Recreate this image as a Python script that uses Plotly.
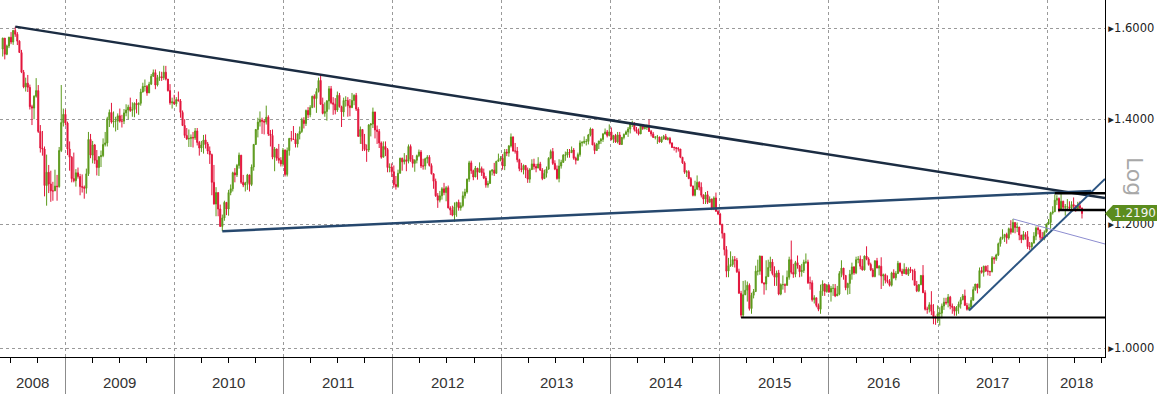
import math
import pandas as pd
import plotly.graph_objects as go

# ---------------- Weekly EUR/USD candles (week ending Friday) ----------------
first_open = 1.5520

close_2008 = [1.5770,1.5400,1.5590,1.5790,1.5680,1.5950,1.5860,1.5700,1.5440,1.5000,
              1.4680,1.4760,1.4670,1.4260,1.4230,1.4480,1.4600,1.3750,1.3420,1.3400,
              1.2700,1.2950,1.2730,1.2600,1.2600,1.2690,1.2680,1.3370,1.3930,1.4100,1.3920]
high_2008 = [1.5780,1.5770,1.5620,1.5800,1.5910,1.5960,1.6038,1.5910,1.5720,1.5500,
             1.5050,1.4880,1.4940,1.4730,1.4300,1.4500,1.4870,1.4720,1.3880,1.3760,
             1.3450,1.3290,1.3090,1.2980,1.2770,1.3000,1.2900,1.3440,1.4720,1.4220,1.4200]
low_2008 = [1.5350,1.5285,1.5380,1.5540,1.5630,1.5615,1.5800,1.5610,1.5440,1.4980,
            1.4650,1.4580,1.4570,1.4200,1.3880,1.4000,1.4450,1.3720,1.3330,1.3270,
            1.2500,1.2330,1.2560,1.2400,1.2420,1.2600,1.2420,1.2660,1.3340,1.3850,1.3870]

close_2009 = [1.3400,1.3240,1.2830,1.2790,1.2940,1.2870,1.2680,1.2670,1.2650,1.2920,
              1.3590,1.3280,1.3480,1.3180,1.3040,1.3250,1.3270,1.3490,1.3520,1.4010,
              1.4140,1.3940,1.3960,1.3960,1.4070,1.3960,1.3960,1.4130,1.4190,1.4250,
              1.4180,1.4200,1.4330,1.4300,1.4330,1.4570,1.4690,1.4690,1.4550,1.4740,
              1.4910,1.4990,1.4720,1.4880,1.4900,1.4880,1.5000,1.4850,1.4600,1.4340,
              1.4360,1.4320]
high_2009 = [1.3950,1.3550,1.3260,1.3330,1.3010,1.3040,1.2920,1.2910,1.2700,1.3020,
             1.3740,1.3700,1.3560,1.3500,1.3380,1.3260,1.3370,1.3610,1.3740,1.4050,
             1.4200,1.4340,1.4160,1.4050,1.4120,1.4220,1.4090,1.4210,1.4310,1.4300,
             1.4450,1.4350,1.4350,1.4420,1.4350,1.4640,1.4770,1.4840,1.4720,1.4790,
             1.4960,1.5060,1.5060,1.4940,1.5020,1.5010,1.5144,1.5140,1.4850,1.4740,
             1.4450,1.4510]
low_2009 = [1.3280,1.2980,1.2760,1.2760,1.2680,1.2830,1.2520,1.2570,1.2457,1.2550,
            1.2880,1.3220,1.3120,1.3110,1.2890,1.2880,1.3050,1.3240,1.3450,1.3450,
            1.3840,1.3910,1.3830,1.3750,1.3780,1.3930,1.3830,1.3900,1.4060,1.4000,
            1.4150,1.4050,1.4040,1.4120,1.4090,1.4280,1.4560,1.4580,1.4490,1.4580,
            1.4720,1.4900,1.4630,1.4690,1.4810,1.4810,1.4830,1.4820,1.4580,1.4300,
            1.4220,1.4300]

close_2010 = [1.4410,1.4380,1.4140,1.3870,1.3670,1.3600,1.3610,1.3630,1.3620,1.3760,
              1.3530,1.3420,1.3480,1.3580,1.3500,1.3360,1.3290,1.2760,1.2360,1.2570,
              1.2270,1.1960,1.2110,1.2390,1.2270,1.2570,1.2640,1.2940,1.2900,1.3080,
              1.3280,1.2760,1.2710,1.2750,1.2900,1.2720,1.3050,1.3490,1.3790,1.3940,
              1.3980,1.3960,1.3940,1.4040,1.3700,1.3670,1.3240,1.3400,1.3220,1.3180,
              1.3110,1.3380]
high_2010 = [1.4460,1.4580,1.4420,1.4180,1.4000,1.3820,1.3790,1.3690,1.3740,1.3820,
             1.3820,1.3560,1.3560,1.3680,1.3690,1.3540,1.3450,1.3310,1.3090,1.2670,
             1.2550,1.2350,1.2170,1.2420,1.2390,1.2620,1.2720,1.2960,1.3030,1.3110,
             1.3330,1.3200,1.2900,1.2770,1.2920,1.2820,1.3100,1.3500,1.3800,1.4030,
             1.4160,1.4030,1.4000,1.4282,1.4080,1.3780,1.3790,1.3440,1.3410,1.3500,
             1.3240,1.3420]
low_2010 = [1.4260,1.4370,1.4030,1.3860,1.3620,1.3580,1.3440,1.3440,1.3430,1.3580,
            1.3470,1.3270,1.3340,1.3310,1.3410,1.3300,1.3110,1.2520,1.2350,1.2140,
            1.2140,1.1950,1.1876,1.2060,1.2160,1.2150,1.2520,1.2590,1.2760,1.2860,
            1.3020,1.2730,1.2670,1.2590,1.2620,1.2590,1.2690,1.2980,1.3480,1.3630,
            1.3850,1.3700,1.3690,1.3890,1.3660,1.3450,1.3200,1.2970,1.3170,1.3120,
            1.3060,1.3060]

close_2011 = [1.2910,1.3370,1.3610,1.3600,1.3590,1.3500,1.3700,1.3750,1.3980,1.3910,
              1.4180,1.4090,1.4240,1.4480,1.4430,1.4580,1.4820,1.4310,1.4120,1.4160,
              1.4380,1.4640,1.4340,1.4310,1.4190,1.4500,1.4260,1.4150,1.4390,1.4390,
              1.4280,1.4240,1.4390,1.4500,1.4210,1.3650,1.3790,1.3500,1.3390,1.3380,
              1.3880,1.3900,1.4150,1.3780,1.3750,1.3520,1.3240,1.3450,1.3390,1.3040,
              1.3050,1.2960]
high_2011 = [1.3390,1.3430,1.3620,1.3760,1.3860,1.3720,1.3710,1.3850,1.4030,1.4040,
             1.4200,1.4250,1.4290,1.4490,1.4520,1.4650,1.4880,1.4940,1.4450,1.4350,
             1.4400,1.4700,1.4700,1.4460,1.4440,1.4580,1.4550,1.4280,1.4450,1.4480,
             1.4460,1.4420,1.4550,1.4520,1.4550,1.4250,1.3850,1.3780,1.3700,1.3490,
             1.3900,1.3920,1.4240,1.4140,1.3870,1.3800,1.3550,1.3550,1.3550,1.3420,
             1.3120,1.3120]
low_2011 = [1.2870,1.2870,1.3270,1.3550,1.3580,1.3430,1.3430,1.3590,1.3720,1.3810,
            1.3860,1.4020,1.4040,1.4230,1.4240,1.4130,1.4560,1.4300,1.4100,1.4050,
            1.3970,1.4200,1.4310,1.4090,1.4100,1.4150,1.4240,1.3840,1.4050,1.4260,
            1.4050,1.4060,1.4230,1.4290,1.4170,1.3650,1.3500,1.3360,1.3360,1.3150,
            1.3340,1.3650,1.3820,1.3610,1.3500,1.3420,1.3210,1.3250,1.3260,1.2950,
            1.2950,1.2860]

close_2012 = [1.2720,1.2680,1.2930,1.3220,1.3150,1.3190,1.3160,1.3450,1.3200,1.3120,
              1.3180,1.3270,1.3340,1.3070,1.3070,1.3210,1.3240,1.3080,1.2920,1.2780,
              1.2510,1.2430,1.2510,1.2640,1.2570,1.2660,1.2290,1.2250,1.2160,1.2310,
              1.2390,1.2290,1.2330,1.2510,1.2580,1.2820,1.3130,1.2980,1.2860,1.3030,
              1.2950,1.3020,1.2940,1.2840,1.2710,1.2740,1.2970,1.2990,1.2930,1.3160,
              1.3190,1.3220,1.3070]
high_2012 = [1.3080,1.2880,1.3000,1.3230,1.3230,1.3320,1.3280,1.3490,1.3490,1.3280,
             1.3200,1.3290,1.3390,1.3380,1.3210,1.3230,1.3280,1.3280,1.3120,1.2930,
             1.2830,1.2560,1.2600,1.2670,1.2750,1.2690,1.2700,1.2320,1.2330,1.2390,
             1.2400,1.2440,1.2390,1.2590,1.2640,1.2830,1.3170,1.3173,1.3000,1.3070,
             1.3010,1.3140,1.3060,1.3020,1.2880,1.2790,1.2990,1.3010,1.3130,1.3170,
             1.3310,1.3260,1.3300]
low_2012 = [1.2660,1.2624,1.2660,1.2930,1.2980,1.3100,1.2970,1.3120,1.3150,1.3040,
            1.2960,1.3120,1.3240,1.3030,1.3000,1.3000,1.3120,1.3060,1.2910,1.2640,
            1.2490,1.2290,1.2390,1.2440,1.2520,1.2410,1.2280,1.2160,1.2140,1.2042,
            1.2130,1.2240,1.2240,1.2300,1.2460,1.2550,1.2770,1.2920,1.2800,1.2860,
            1.2810,1.2950,1.2880,1.2820,1.2660,1.2660,1.2730,1.2890,1.2880,1.2920,
            1.3160,1.3160,1.3000]

close_2013 = [1.3340,1.3320,1.3460,1.3640,1.3360,1.3360,1.3190,1.3020,1.3000,1.3080,
              1.2990,1.2820,1.3000,1.3110,1.3060,1.3030,1.3110,1.2990,1.2830,1.2930,
              1.3010,1.3220,1.3350,1.3120,1.3010,1.2830,1.3070,1.3140,1.3280,1.3280,
              1.3340,1.3330,1.3380,1.3220,1.3180,1.3290,1.3520,1.3530,1.3550,1.3550,
              1.3680,1.3800,1.3480,1.3370,1.3500,1.3560,1.3590,1.3700,1.3740,1.3670,
              1.3740,1.3590]
high_2013 = [1.3400,1.3400,1.3480,1.3710,1.3650,1.3520,1.3440,1.3210,1.3130,1.3100,
             1.3050,1.3040,1.3030,1.3200,1.3210,1.3110,1.3240,1.3150,1.3030,1.3000,
             1.3060,1.3240,1.3390,1.3420,1.3180,1.3080,1.3200,1.3190,1.3300,1.3350,
             1.3400,1.3400,1.3450,1.3420,1.3250,1.3330,1.3570,1.3560,1.3650,1.3600,
             1.3700,1.3830,1.3800,1.3530,1.3520,1.3560,1.3620,1.3720,1.3810,1.3780,
             1.3893,1.3830]
low_2013 = [1.2990,1.3260,1.3250,1.3430,1.3350,1.3310,1.3140,1.2970,1.2950,1.2910,
            1.2840,1.2750,1.2750,1.3000,1.3000,1.2950,1.3080,1.2980,1.2800,1.2840,
            1.2850,1.3000,1.3200,1.3090,1.2990,1.2810,1.2760,1.3020,1.3130,1.3170,
            1.3230,1.3230,1.3320,1.3190,1.3100,1.3240,1.3250,1.3450,1.3500,1.3470,
            1.3490,1.3650,1.3480,1.3300,1.3380,1.3400,1.3500,1.3540,1.3690,1.3630,
            1.3650,1.3570]

close_2014 = [1.3670,1.3540,1.3680,1.3490,1.3630,1.3690,1.3740,1.3800,1.3910,1.3910,
              1.3790,1.3750,1.3700,1.3890,1.3810,1.3830,1.3870,1.3750,1.3700,1.3630,
              1.3640,1.3640,1.3540,1.3600,1.3650,1.3590,1.3610,1.3520,1.3430,1.3430,
              1.3410,1.3400,1.3240,1.3130,1.2950,1.2960,1.2830,1.2690,1.2520,1.2630,
              1.2760,1.2670,1.2520,1.2450,1.2530,1.2390,1.2450,1.2290,1.2470,1.2230,
              1.2180,1.2000]
high_2014 = [1.3680,1.3700,1.3740,1.3740,1.3640,1.3710,1.3770,1.3840,1.3920,1.3967,
             1.3940,1.3840,1.3810,1.3900,1.3880,1.3860,1.3890,1.3993,1.3780,1.3740,
             1.3650,1.3680,1.3640,1.3650,1.3680,1.3700,1.3640,1.3640,1.3530,1.3450,
             1.3430,1.3440,1.3400,1.3230,1.3160,1.2990,1.2990,1.2860,1.2700,1.2790,
             1.2890,1.2780,1.2760,1.2540,1.2580,1.2600,1.2500,1.2460,1.2500,1.2570,
             1.2250,1.2200]
low_2014 = [1.3520,1.3520,1.3510,1.3480,1.3480,1.3590,1.3690,1.3640,1.3710,1.3840,
            1.3750,1.3710,1.3670,1.3700,1.3780,1.3790,1.3780,1.3740,1.3650,1.3620,
            1.3590,1.3500,1.3530,1.3520,1.3590,1.3580,1.3570,1.3490,1.3420,1.3370,
            1.3330,1.3350,1.3220,1.3110,1.2920,1.2860,1.2820,1.2680,1.2500,1.2500,
            1.2620,1.2610,1.2480,1.2360,1.2360,1.2360,1.2390,1.2250,1.2250,1.2220,
            1.2160,1.1980]

close_2015 = [1.1840,1.1560,1.1200,1.1290,1.1310,1.1390,1.1380,1.1190,1.0840,1.0500,
              1.0820,1.0890,1.0970,1.0600,1.0810,1.0870,1.1200,1.1200,1.1450,1.1010,
              1.0990,1.1110,1.1260,1.1350,1.1160,1.1100,1.1170,1.0830,1.0980,1.0980,
              1.0970,1.1100,1.1390,1.1180,1.1150,1.1340,1.1290,1.1190,1.1210,1.1350,
              1.1350,1.1010,1.1010,1.0740,1.0770,1.0650,1.0590,1.0880,1.0990,1.0870,
              1.0970,1.0860]
high_2015 = [1.1970,1.1840,1.1620,1.1420,1.1530,1.1450,1.1450,1.1420,1.1240,1.0880,
             1.1040,1.1050,1.1030,1.1000,1.0850,1.0910,1.1290,1.1390,1.1460,1.1440,
             1.1010,1.1380,1.1390,1.1440,1.1400,1.1280,1.1210,1.1220,1.1000,1.1130,
             1.1000,1.1210,1.1440,1.1714,1.1320,1.1370,1.1460,1.1300,1.1320,1.1390,
             1.1495,1.1390,1.1110,1.1050,1.0810,1.0770,1.0680,1.0980,1.1050,1.1000,
             1.0990,1.0990]
low_2015 = [1.1750,1.1460,1.1100,1.1100,1.1270,1.1270,1.1260,1.1170,1.0840,1.0462,
            1.0460,1.0810,1.0710,1.0570,1.0520,1.0760,1.0860,1.1130,1.1140,1.1000,
            1.0820,1.0890,1.1110,1.1200,1.1130,1.0960,1.0960,1.0810,1.0810,1.0900,
            1.0850,1.0960,1.1060,1.1150,1.1090,1.1100,1.1240,1.1100,1.1110,1.1170,
            1.1320,1.0990,1.0900,1.0710,1.0680,1.0620,1.0560,1.0520,1.0800,1.0800,
            1.0850,1.0850]

close_2016 = [1.0920,1.0920,1.0800,1.0830,1.1160,1.1250,1.1130,1.0930,1.1000,1.1150,
              1.1270,1.1170,1.1390,1.1400,1.1280,1.1220,1.1450,1.1400,1.1310,1.1220,
              1.1110,1.1370,1.1250,1.1280,1.1120,1.1140,1.1050,1.1030,1.0970,1.1170,
              1.1090,1.1160,1.1330,1.1200,1.1160,1.1230,1.1150,1.1230,1.1210,1.1200,
              1.0970,1.0880,1.0980,1.1130,1.0850,1.0590,1.0590,1.0660,1.0560,1.0450,
              1.0450,1.0520]
high_2016 = [1.0960,1.0990,1.0990,1.0960,1.1200,1.1380,1.1240,1.1080,1.1010,1.1220,
             1.1340,1.1280,1.1440,1.1450,1.1460,1.1400,1.1460,1.1616,1.1430,1.1340,
             1.1250,1.1380,1.1420,1.1300,1.1430,1.1160,1.1160,1.1130,1.1070,1.1190,
             1.1230,1.1200,1.1370,1.1340,1.1240,1.1330,1.1270,1.1260,1.1270,1.1230,
             1.1240,1.1040,1.0990,1.1130,1.1300,1.0890,1.0630,1.0700,1.0875,1.0670,
             1.0490,1.0650]
low_2016 = [1.0710,1.0800,1.0780,1.0800,1.0810,1.1100,1.1060,1.0890,1.0820,1.0830,
            1.1060,1.1140,1.1150,1.1330,1.1230,1.1210,1.1210,1.1380,1.1290,1.1200,
            1.1100,1.1100,1.1250,1.1130,1.0910,1.0960,1.1000,1.1000,1.0950,1.0950,
            1.1080,1.1050,1.1160,1.1180,1.1120,1.1160,1.1150,1.1120,1.1170,1.1050,
            1.0970,1.0860,1.0860,1.0970,1.0850,1.0570,1.0520,1.0540,1.0500,1.0360,
            1.0350,1.0380]

close_2017 = [1.0530,1.0640,1.0700,1.0690,1.0780,1.0640,1.0620,1.0560,1.0620,1.0670,
              1.0740,1.0800,1.0650,1.0590,1.0620,1.0730,1.0900,1.0990,1.0930,1.1210,
              1.1180,1.1280,1.1200,1.1200,1.1190,1.1420,1.1400,1.1470,1.1660,1.1750,
              1.1780,1.1820,1.1760,1.1920,1.1860,1.2030,1.1940,1.1950,1.1810,1.1730,
              1.1820,1.1780,1.1610,1.1610,1.1670,1.1790,1.1930,1.1900,1.1770,1.1750,
              1.1860,1.2000]
high_2017 = [1.0620,1.0680,1.0770,1.0770,1.0830,1.0800,1.0680,1.0640,1.0640,1.0710,
             1.0780,1.0830,1.0900,1.0690,1.0680,1.0780,1.0950,1.0990,1.0990,1.1260,
             1.1270,1.1290,1.1290,1.1300,1.1200,1.1450,1.1440,1.1490,1.1680,1.1780,
             1.1910,1.1830,1.1850,1.1940,1.2070,1.2092,1.2010,1.2030,1.1950,1.1800,
             1.1880,1.1860,1.1880,1.1690,1.1690,1.1860,1.1960,1.1960,1.1860,1.1860,
             1.1890,1.2010]
low_2017 = [1.0340,1.0450,1.0580,1.0660,1.0620,1.0590,1.0520,1.0490,1.0490,1.0520,
            1.0600,1.0730,1.0650,1.0570,1.0570,1.0620,1.0820,1.0880,1.0840,1.0920,
            1.1160,1.1110,1.1190,1.1130,1.1120,1.1180,1.1320,1.1370,1.1450,1.1610,
            1.1730,1.1690,1.1660,1.1730,1.1820,1.1850,1.1840,1.1860,1.1720,1.1670,
            1.1750,1.1730,1.1570,1.1550,1.1560,1.1720,1.1720,1.1820,1.1720,1.1720,
            1.1720,1.1860]

close_2018 = [1.2030,1.2200,1.2220,1.2430,1.2460,1.2250,1.2410,1.2300,1.2310,1.2310,
              1.2290,1.2350,1.2320,1.2280,1.2330,1.2290,1.2190]
high_2018 = [1.2090,1.2220,1.2320,1.2537,1.2520,1.2480,1.2555,1.2420,1.2360,1.2450,
             1.2410,1.2410,1.2480,1.2340,1.2400,1.2410,1.2290]
low_2018 = [1.1990,1.1920,1.2170,1.2220,1.2340,1.2210,1.2280,1.2260,1.2150,1.2270,
            1.2240,1.2250,1.2280,1.2220,1.2270,1.2270,1.2100]

# ---------------- Trend lines drawn on the chart (date, price) ----------------
line_resistance = [("2008-07-18", 1.6038), ("2018-07-13", 1.2470)]
line_support = [("2010-06-11", 1.1876), ("2018-05-28", 1.2599)]
line_floor = [("2015-03-13", 1.0462), ("2018-07-13", 1.0462)]
line_uptrend = [("2017-04-14", 1.0570), ("2018-07-13", 1.2823)]
line_thin = [("2017-09-08", 1.2092), ("2018-07-13", 1.1655)]
line_range_top = [("2018-01-26", 1.2555), ("2018-07-13", 1.2555)]
line_range_bottom = [("2018-02-06", 1.2250), ("2018-07-13", 1.2250)]

# ---------------- Axes ----------------
x_start, x_end = "2008-05-28", "2018-07-13"
y_min, y_max = 0.9873, 1.6678
price_ticks = [1.0, 1.2, 1.4, 1.6]
years = list(range(2008, 2019))

# ---------------- Assemble ----------------
closes = (close_2008 + close_2009 + close_2010 + close_2011 + close_2012 + close_2013 +
          close_2014 + close_2015 + close_2016 + close_2017 + close_2018)
highs_raw = (high_2008 + high_2009 + high_2010 + high_2011 + high_2012 + high_2013 +
             high_2014 + high_2015 + high_2016 + high_2017 + high_2018)
lows_raw = (low_2008 + low_2009 + low_2010 + low_2011 + low_2012 + low_2013 +
            low_2014 + low_2015 + low_2016 + low_2017 + low_2018)
opens = [first_open] + closes[:-1]
highs = [max(h, o, c) for h, o, c in zip(highs_raw, opens, closes)]
lows = [min(l, o, c) for l, o, c in zip(lows_raw, opens, closes)]
dates = pd.date_range("2008-06-06", periods=len(closes), freq="W-FRI")

W, H = 1157, 394
ML, MR, MT, MB = 0, 52, 0, 37
PW, PH = W - ML - MR, H - MT - MB

UP = "#5c9a1c"
DOWN = "#e2163c"

fig = go.Figure()
fig.add_trace(go.Candlestick(
    x=dates, open=opens, high=highs, low=lows, close=closes,
    increasing=dict(line=dict(color=UP, width=1), fillcolor=UP),
    decreasing=dict(line=dict(color=DOWN, width=1), fillcolor=DOWN),
    whiskerwidth=0, hoverinfo="skip", showlegend=False,
))

def add_line(pts, color, width):
    fig.add_trace(go.Scatter(
        x=[p[0] for p in pts], y=[p[1] for p in pts], mode="lines",
        line=dict(color=color, width=width), hoverinfo="skip", showlegend=False))

add_line(line_resistance, "#1b2c42", 2.5)
add_line(line_support, "#26486e", 2.5)
add_line(line_floor, "#000000", 2)
add_line(line_uptrend, "#2c5582", 2)
add_line(line_thin, "#8d8dd0", 1)
add_line(line_range_top, "#000000", 2.5)
add_line(line_range_bottom, "#000000", 2.5)

year_starts = [f"{y}-01-01" for y in years[1:]]

annotations = []
xs = pd.Timestamp(x_start)
xe = pd.Timestamp(x_end)
for y in years:
    a = max(pd.Timestamp(f"{y}-01-01"), xs)
    b = min(pd.Timestamp(f"{y + 1}-01-01"), xe)
    mid = a + (b - a) / 2
    annotations.append(dict(
        x=mid, xref="x", y=0, yref="paper", yanchor="middle", yshift=-25,
        text=str(y), showarrow=False,
        font=dict(family="Liberation Sans Narrow, Arial Narrow, Liberation Sans, sans-serif",
                  size=15, color="#333333")))

# "Log" label
annotations.append(dict(
    x=1 + 30 / PW, xref="paper", y=1 - 176 / PH, yref="paper",
    text="Log", textangle=90, showarrow=False, xanchor="center", yanchor="middle",
    font=dict(family="DejaVu Sans", size=22, color="#a8a8a8")))

# Last price label
last_price = closes[-1]
ly = math.log10(last_price)
annotations.append(dict(
    x=1, xref="paper", xanchor="left", xshift=8,
    y=ly, yref="y", yanchor="middle",
    text=f"{last_price:.4f}", showarrow=False,
    bgcolor="#5b8c1e", borderpad=1, borderwidth=0,
    font=dict(family="DejaVu Sans", size=12, color="#f4f4f4")))

r0, r1 = math.log10(y_min), math.log10(y_max)
frac = (ly - r0) / (r1 - r0)
tip_w = 8 / PW
half_h = 8.5 / PH
shapes = [dict(
    type="path", xref="paper", yref="paper", layer="above",
    path=f"M 1.0,{frac} L {1 + tip_w},{frac + half_h} L {1 + tip_w},{frac - half_h} Z",
    fillcolor="#5b8c1e", line=dict(width=0))]

fig.update_layout(
    width=W, height=H,
    margin=dict(l=ML, r=MR, t=MT, b=MB, pad=0),
    paper_bgcolor="white", plot_bgcolor="white",
    showlegend=False,
    annotations=annotations,
    shapes=shapes,
    xaxis=dict(
        type="date", range=[x_start, x_end],
        rangeslider=dict(visible=False),
        tickmode="array", tickvals=year_starts, showticklabels=False,
        ticks="outside", ticklen=MB, tickcolor="#8c8c8c", tickwidth=1,
        showgrid=True, gridcolor="#9a9a9a", griddash="dot", gridwidth=1,
        showline=True, linecolor="black", linewidth=1, zeroline=False,
        minor=dict(dtick="M3", tick0="2008-01-01", ticks="outside", ticklen=5,
                   tickcolor="black", tickwidth=1, showgrid=False),
    ),
    yaxis=dict(
        type="log", side="right", range=[r0, r1],
        tickmode="array", tickvals=price_ticks,
        ticktext=["\u25B8" + f"{v:.4f}" for v in price_ticks],
        ticks="", showgrid=True, gridcolor="#9a9a9a", griddash="dot", gridwidth=1,
        showline=True, linecolor="black", linewidth=1, zeroline=False,
        tickfont=dict(family="DejaVu Sans", size=11.5, color="#222222"),
    ),
)

fig.write_html("out.html", config={"displayModeBar": False},
               post_script="document.body.style.margin='0';document.body.style.overflow='hidden';")
